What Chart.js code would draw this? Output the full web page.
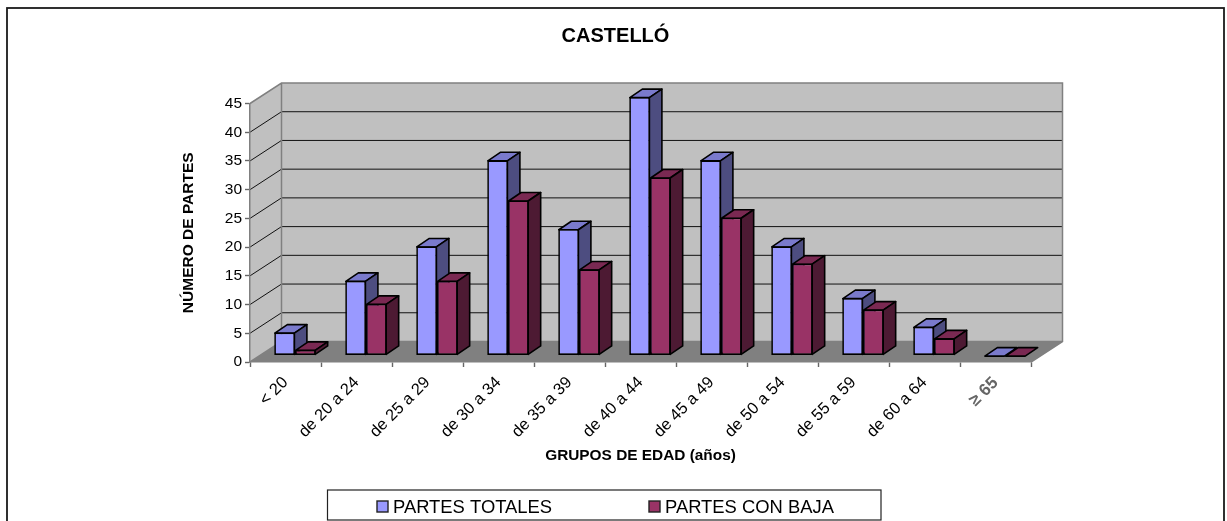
<!DOCTYPE html>
<html><head><meta charset="utf-8">
<style>html,body{margin:0;padding:0;background:#fff}canvas{display:block}</style>
<script src="https://cdn.jsdelivr.net/npm/chart.js@4"></script>
</head><body>
<div style="width:1227px;height:521px"><canvas id="c" width="1227" height="521"></canvas></div>
<script>
const categories = ['< 20','de 20 a 24','de 25 a 29','de 30 a 34','de 35 a 39','de 40 a 44','de 45 a 49','de 50 a 54','de 55 a 59','de 60 a 64','≥ 65'];
const partesTotales = [4,13,19,34,22,45,34,19,10,5,0];
const partesConBaja = [1,9,13,27,15,31,24,16,8,3,0];
const FONT = "'Liberation Sans', Arial, sans-serif";
const DEPTH = {x:31.5, y:-20.5};
const BAR_OFF = {x:9.5, y:-6.5};
const BAR_D = {x:12.5, y:-8.5};
const shades = [{top:'#7A7ACC', side:'#4D4D80'},{top:'#7A2952', side:'#4D1A33'}];

function poly(ctx, pts, fill, stroke, lw){
  ctx.beginPath(); pts.forEach((p,i)=> i?ctx.lineTo(p[0],p[1]):ctx.moveTo(p[0],p[1])); ctx.closePath();
  if(fill){ctx.fillStyle=fill;ctx.fill();}
  if(stroke){ctx.strokeStyle=stroke;ctx.lineWidth=lw;ctx.stroke();}
}
const scene = {
  id:'scene',
  afterLayout(chart){
    chart.titleBlock.left = 0; chart.titleBlock.right = 1231;
  },
  beforeDraw(chart){
    const {ctx, chartArea:a, scales:{y}} = chart;
    const dx=DEPTH.x, dy=DEPTH.y;
    ctx.save();
    ctx.strokeStyle='#1a1a1a'; ctx.lineWidth=1.8; ctx.strokeRect(7,8,1217,530);
    poly(ctx,[[a.left,a.bottom],[a.left+dx,a.bottom+dy],[a.right+dx,a.bottom+dy],[a.right,a.bottom]],'#808080');
    poly(ctx,[[a.left,a.top],[a.left+dx,a.top+dy],[a.left+dx,a.bottom+dy],[a.left,a.bottom]],'#C0C0C0');
    poly(ctx,[[a.left+dx,a.top+dy],[a.right+dx,a.top+dy],[a.right+dx,a.bottom+dy],[a.left+dx,a.bottom+dy]],'#C0C0C0');
    y.ticks.forEach(t=>{
      const py=y.getPixelForValue(t.value);
      if(t.value===0||t.value===y.max) return;
      ctx.beginPath(); ctx.moveTo(a.left,py); ctx.lineTo(a.left+dx,py+dy); ctx.lineTo(a.right+dx,py+dy);
      ctx.strokeStyle='#111'; ctx.lineWidth=1; ctx.stroke();
    });
    ctx.strokeStyle='#808080'; ctx.lineWidth=1.5;
    ctx.beginPath();
    ctx.moveTo(a.left,a.top); ctx.lineTo(a.left+dx,a.top+dy); ctx.lineTo(a.right+dx,a.top+dy); ctx.lineTo(a.right+dx,a.bottom+dy); ctx.lineTo(a.right,a.bottom);
    ctx.moveTo(a.left+dx,a.top+dy); ctx.lineTo(a.left+dx,a.bottom+dy); ctx.lineTo(a.left,a.bottom);
    ctx.moveTo(a.left+dx,a.bottom+dy); ctx.lineTo(a.right+dx,a.bottom+dy);
    ctx.stroke();
    ctx.restore();
  },
  beforeDatasetsDraw(chart){
    const ctx=chart.ctx;
    ctx.save(); ctx.translate(BAR_OFF.x,BAR_OFF.y); ctx.lineJoin='round';
    chart.data.datasets.forEach((d,i)=>{
      const s=shades[i];
      chart.getDatasetMeta(i).data.forEach(b=>{
        const l=b.x-b.width/2+0.6, r=b.x+b.width/2-0.6, t=b.y+0.6, bo=b.base-0.6;
        const dx=BAR_D.x, dy=BAR_D.y;
        poly(ctx,[[l,t],[l+dx,t+dy],[r+dx,t+dy],[r,t]],s.top,'#000',1.6);
        if(bo>t) poly(ctx,[[r,t],[r+dx,t+dy],[r+dx,bo+dy],[r,bo]],s.side,'#000',1.6);
      });
    });
    ctx.restore();
  },
  beforeDatasetDraw(chart){
    chart.ctx.save(); chart.ctx.translate(BAR_OFF.x,BAR_OFF.y);
  },
  afterDatasetDraw(chart){
    chart.ctx.restore();
  },
  afterDraw(chart){
    const ctx=chart.ctx, ds=chart.data.datasets;
    ctx.save();
    ctx.fillStyle='#fff'; ctx.fillRect(327.5,490,553.5,30);
    ctx.strokeStyle='#222'; ctx.lineWidth=1.2; ctx.strokeRect(327.5,490,553.5,30);
    const xs=[377,649];
    ds.forEach((d,i)=>{
      ctx.fillStyle=d.backgroundColor; ctx.strokeStyle='#222'; ctx.lineWidth=1.4;
      ctx.fillRect(xs[i],501,11,11); ctx.strokeRect(xs[i],501,11,11);
      ctx.fillStyle='#000'; ctx.font="18.4px "+FONT; ctx.textBaseline='middle'; ctx.textAlign='left';
      ctx.fillText(d.label,xs[i]+16,507.5);
    });
    ctx.restore();
  }
};
new Chart(document.getElementById('c'),{
  type:'bar',
  data:{labels:categories,datasets:[
    {label:'PARTES TOTALES',data:partesTotales,backgroundColor:'#9999FF',borderColor:'#000',borderWidth:1.7,borderSkipped:false,clip:false},
    {label:'PARTES CON BAJA',data:partesConBaja,backgroundColor:'#993366',borderColor:'#000',borderWidth:1.7,borderSkipped:false,clip:false}
  ]},
  plugins:[scene],
  options:{
    responsive:false,animation:false,
    datasets:{bar:{categoryPercentage:0.585,barPercentage:1}},
    layout:{padding:{left:0,right:196,top:0,bottom:56}},
    plugins:{
      legend:{display:false},tooltip:{enabled:false},
      title:{display:true,text:'CASTELLÓ',color:'#000',font:{family:FONT,size:20,weight:'bold'},padding:{top:24,bottom:55.5}}
    },
    scales:{
      x:{
        afterFit(s){s.height=103;},
        offset:true,
        grid:{drawOnChartArea:false,offset:true,color:'#666',tickLength:5,tickWidth:1.4},
        border:{color:'#808080',width:1.5},
        ticks:{autoSkip:false,minRotation:45,maxRotation:45,padding:6,
          color:c=>c.index===10?'#666':'#000',
          font:c=>({family:FONT,size:c.index===10?17:16.4,weight:c.index===10?'bold':'normal'})},
        title:{display:true,text:'GRUPOS DE EDAD (años)',color:'#000',font:{family:FONT,size:15.4,weight:'bold'},padding:{top:0,bottom:0}}
      },
      y:{
        afterFit(s){s.width=250;},
        min:0,max:45,
        grid:{drawOnChartArea:false,color:'#666',tickLength:5,tickWidth:1.4},
        border:{color:'#808080',width:1.5},
        ticks:{stepSize:5,padding:3,color:'#000',font:{family:FONT,size:15.5}},
        title:{display:true,text:'NÚMERO DE PARTES',color:'#000',font:{family:FONT,size:15.5,weight:'bold'},padding:{top:179,bottom:0}}
      }
    }
  }
});
</script>
</body></html>
